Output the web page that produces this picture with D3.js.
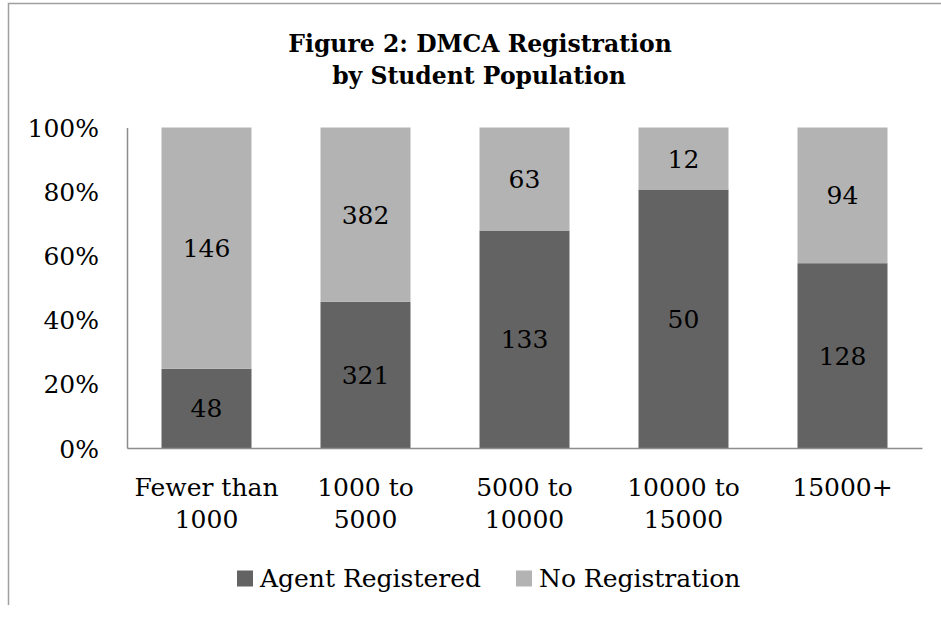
<!DOCTYPE html>
<html>
<head>
<meta charset="utf-8">
<script src="https://cdn.jsdelivr.net/npm/d3@7"></script>
<style>
  body { margin: 0; background: #fff; }
  text { font-family: "DejaVu Serif", serif; fill: #000; }
</style>
</head>
<body>
<div id="chart"></div>
<script>
// Data
var categories = [["Fewer than", "1000"], ["1000 to", "5000"], ["5000 to", "10000"], ["10000 to", "15000"], ["15000+"]];
var seriesNames = ["Agent Registered", "No Registration"];
var agentRegistered = [48, 321, 133, 50, 128];
var noRegistration = [146, 382, 63, 12, 94];
var yTicks = [0, 0.2, 0.4, 0.6, 0.8, 1];
var colors = ["#636363", "#b3b3b3"];

var W = 941, H = 617;
var margin = {top: 127.5, right: 19, bottom: 169, left: 127};
var width = W - margin.left - margin.right,
    height = H - margin.top - margin.bottom;

var svg = d3.select("#chart").append("svg")
    .attr("width", W)
    .attr("height", H);

// outer chart frame (cropped on the right and bottom)
svg.append("path")
    .attr("d", "M8.5,605 V3.5 H941")
    .attr("fill", "none")
    .attr("stroke", "#a0a0a0")
    .attr("stroke-width", 1.5);

// title
var title = svg.append("text")
    .attr("text-anchor", "middle")
    .style("font-weight", "bold")
    .style("font-size", "23.5px");
title.append("tspan").attr("x", 480).attr("y", 52).text("Figure 2: DMCA Registration");
title.append("tspan").attr("x", 479).attr("y", 84).text("by Student Population");

var g = svg.append("g")
    .attr("transform", "translate(" + margin.left + "," + margin.top + ")");

var rows = categories.map(function(c, i) {
  var total = agentRegistered[i] + noRegistration[i];
  return {key: i, agent: agentRegistered[i], none: noRegistration[i], total: total};
});

var x = d3.scaleBand()
    .domain(d3.range(categories.length))
    .range([0, width])
    .paddingInner(0.434)
    .paddingOuter(0.217);

var y = d3.scaleLinear().domain([0, 1]).range([height, 0]);

var stack = d3.stack()
    .keys(["agent", "none"])
    .offset(d3.stackOffsetExpand);
var layers = stack(rows);

var layer = g.selectAll(".layer")
    .data(layers)
  .enter().append("g")
    .attr("class", "layer")
    .attr("fill", function(d, i) { return colors[i]; });

layer.selectAll("rect")
    .data(function(d) { return d; })
  .enter().append("rect")
    .attr("x", function(d, i) { return x(i); })
    .attr("y", function(d) { return y(d[1]); })
    .attr("width", x.bandwidth())
    .attr("height", function(d) { return y(d[0]) - y(d[1]); });

// value labels
layers.forEach(function(l) {
  g.selectAll(".lbl-" + l.key)
      .data(l)
    .enter().append("text")
      .attr("x", function(d, i) { return x(i) + x.bandwidth() / 2; })
      .attr("y", function(d) { return y((d[0] + d[1]) / 2); })
      .attr("dy", "0.36em")
      .attr("text-anchor", "middle")
      .style("font-size", "25px")
      .text(function(d) { return d.data[l.key]; });
});

// y axis
var yAxis = d3.axisLeft(y)
    .tickValues(yTicks)
    .tickFormat(d3.format(".0%"))
    .tickSize(0)
    .tickPadding(28);
var ya = g.append("g").call(yAxis);
ya.select(".domain").attr("stroke", "#8c8c8c").attr("stroke-width", 1.5);
ya.selectAll("text")
    .attr("dy", "0.36em")
    .style("font-size", "25px")
    .style("font-family", "DejaVu Serif, serif");

// x axis
var xAxis = d3.axisBottom(x).tickSize(0).tickFormat("");
var xa = g.append("g")
    .attr("transform", "translate(0," + height + ")")
    .call(xAxis);
xa.select(".domain").attr("stroke", "#8c8c8c").attr("stroke-width", 1.5);

categories.forEach(function(c, i) {
  var t = g.append("text")
      .attr("text-anchor", "middle")
      .style("font-size", "25px");
  c.forEach(function(line, j) {
    t.append("tspan")
        .attr("x", x(i) + x.bandwidth() / 2)
        .attr("y", height + 48 + j * 32)
        .text(line);
  });
});

// legend
var legend = svg.append("g").attr("transform", "translate(237,579)");
var legX = [0, 279];
seriesNames.forEach(function(name, i) {
  var item = legend.append("g").attr("transform", "translate(" + legX[i] + ",0)");
  item.append("rect")
      .attr("x", 0).attr("y", -8.5)
      .attr("width", 16).attr("height", 16)
      .attr("fill", colors[i]);
  item.append("text")
      .attr("x", 23)
      .attr("y", 8)
      .style("font-size", "25px")
      .text(name);
});
</script>
</body>
</html>
